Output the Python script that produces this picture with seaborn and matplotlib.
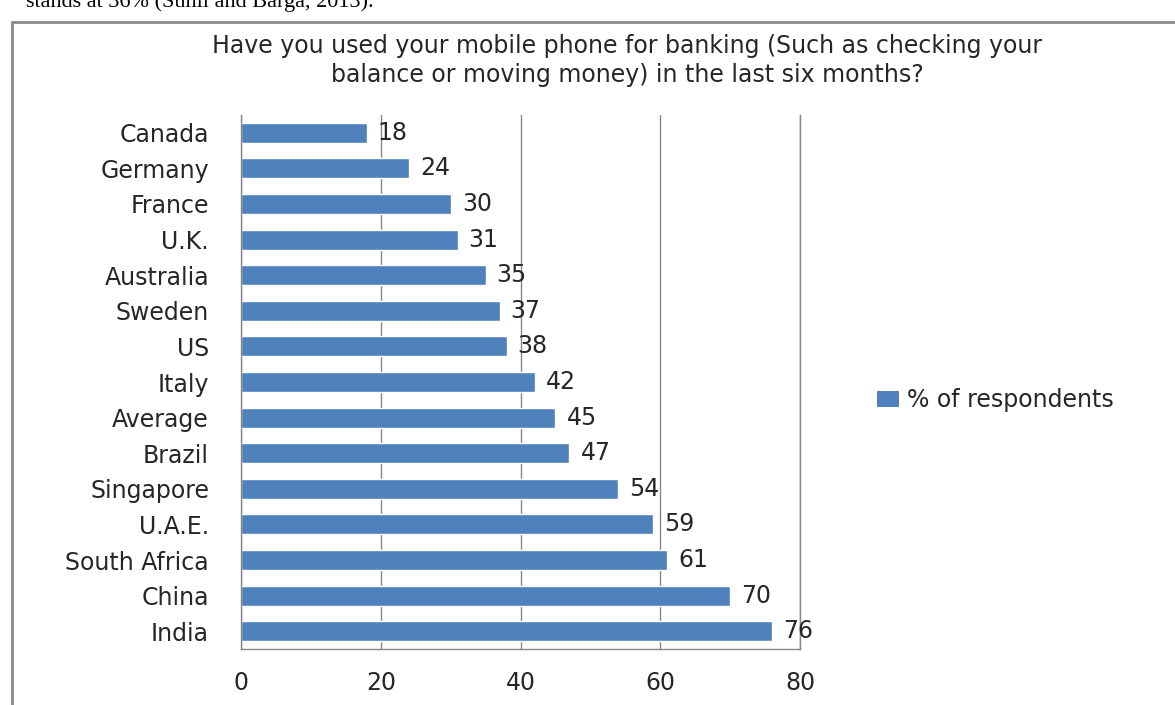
"""Mobile banking usage by country, horizontal bar chart."""

import matplotlib

matplotlib.use("Agg")

import matplotlib.pyplot as plt
import pandas as pd
import seaborn as sns
from matplotlib.lines import Line2D
from matplotlib.patches import Patch

countries = [
    "Canada", "Germany", "France", "U.K.", "Australia", "Sweden", "US", "Italy",
    "Average", "Brazil", "Singapore", "U.A.E.", "South Africa", "China", "India",
]
respondents = [18, 24, 30, 31, 35, 37, 38, 42, 45, 47, 54, 59, 61, 70, 76]
x_ticks = [0, 20, 40, 60, 80]

BAR_COLOR = "#4F81BD"
GRID_COLOR = "#868686"
TEXT_COLOR = "#262626"
FS = 17

df = pd.DataFrame({"country": countries, "pct": respondents})

sns.set_theme(style="white")
plt.rcParams["font.family"] = ["DejaVu Sans"]

fig = plt.figure(figsize=(11.75, 7.05), dpi=100)
ax = fig.add_axes([0.2051, 0.0794, 0.4758, 0.7575])

sns.barplot(data=df, x="pct", y="country", orient="h", color=BAR_COLOR,
            saturation=1, width=0.56, ax=ax)

ax.set_xlim(0, 80)
ax.set_ylim(len(countries) - 0.5, -0.5)
ax.set_xticks(x_ticks)
ax.set_xticklabels([str(t) for t in x_ticks])
ax.xaxis.grid(True, color=GRID_COLOR, linewidth=1.0)
ax.set_axisbelow(True)
ax.set_xlabel("")
ax.set_ylabel("")
ax.tick_params(axis="x", length=0, pad=16, labelsize=FS, colors=TEXT_COLOR)
ax.tick_params(axis="y", length=0, pad=23, labelsize=FS, colors=TEXT_COLOR)

ax.spines["top"].set_visible(False)
for side in ["left", "bottom", "right"]:
    ax.spines[side].set_color(GRID_COLOR)
    ax.spines[side].set_linewidth(1.0)

ax.bar_label(ax.containers[0], labels=[str(v) for v in respondents],
             padding=8, fontsize=FS, color=TEXT_COLOR)

fig.text(0.534, 0.914,
         "Have you used your mobile phone for banking (Such as checking your\n"
         "balance or moving money) in the last six months?",
         ha="center", va="center", fontsize=FS, color=TEXT_COLOR, linespacing=1.3)

handle = Patch(facecolor=BAR_COLOR, edgecolor="none")
fig.legend([handle], ["% of respondents"], loc="center left",
           bbox_to_anchor=(0.728, 0.432), frameon=False, fontsize=FS,
           handlelength=0.93, handleheight=0.64, handletextpad=0.35,
           labelcolor=TEXT_COLOR)

# frame of the screenshot and the cut-off line of body text above it
fig.add_artist(Line2D([0.0106, 0.0106], [0.0, 0.969], color="#8a8a8a", linewidth=2.0))
fig.add_artist(Line2D([0.0106, 1.0], [0.969, 0.969], color="#8a8a8a", linewidth=2.0))
fig.text(0.022, 0.990, "stands at 36% (Sunil and Barga, 2013).", ha="left", va="baseline",
         fontsize=16, family="Liberation Serif", color="black")

fig.savefig("out.png", dpi=100)
